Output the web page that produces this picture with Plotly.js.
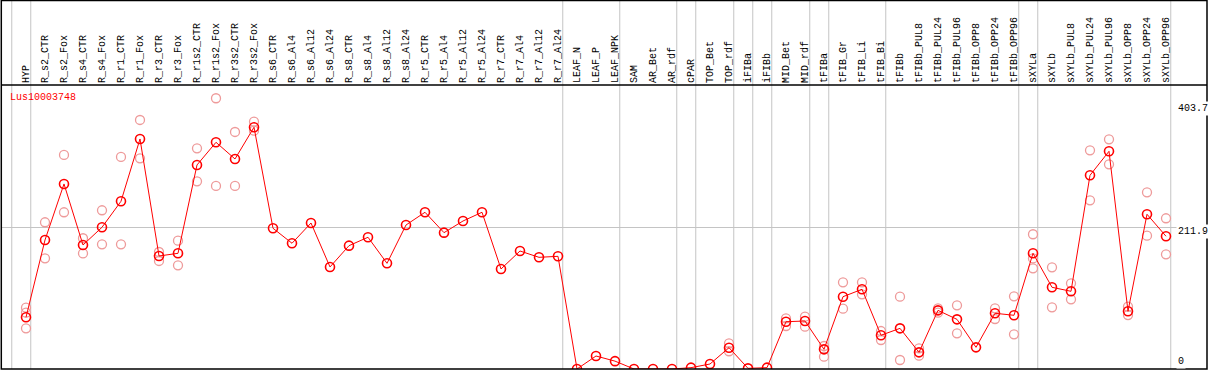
<!DOCTYPE html>
<html>
<head>
<meta charset="utf-8">
<script src="https://cdn.plot.ly/plotly-3.0.1.min.js"></script>
<style>
  html, body { margin: 0; padding: 0; background: #ffffff; }
  #chart { width: 1209px; height: 370px; }
</style>
</head>
<body>
<div id="chart"></div>
<script>
// ---- data ----
const geneName = "Lus10003748";

const categories = [
  "HYP",
  "R_s2_CTR", "R_s2_Fox", "R_s4_CTR", "R_s4_Fox", "R_r1_CTR", "R_r1_Fox", "R_r3_CTR", "R_r3_Fox",
  "R_r1s2_CTR", "R_r1s2_Fox", "R_r3s2_CTR", "R_r3s2_Fox",
  "R_s6_CTR", "R_s6_Al4", "R_s6_Al12", "R_s6_Al24",
  "R_s8_CTR", "R_s8_Al4", "R_s8_Al12", "R_s8_Al24",
  "R_r5_CTR", "R_r5_Al4", "R_r5_Al12", "R_r5_Al24",
  "R_r7_CTR", "R_r7_Al4", "R_r7_Al12", "R_r7_Al24",
  "LEAF_N", "LEAF_P", "LEAF_NPK",
  "SAM", "AR_Bet", "AR_rdf",
  "cPAR",
  "TOP_Bet", "TOP_rdf",
  "iFIBa",
  "iFIBb",
  "MID_Bet", "MID_rdf",
  "tFIBa",
  "tFIB_Gr", "tFIB_Li", "tFIB_Bi",
  "tFIBb", "tFIBb_PUL8", "tFIBb_PUL24", "tFIBb_PUL96", "tFIBb_OPP8", "tFIBb_OPP24", "tFIBb_OPP96",
  "sXYLa",
  "sXYLb", "sXYLb_PUL8", "sXYLb_PUL24", "sXYLb_PUL96", "sXYLb_OPP8", "sXYLb_OPP24", "sXYLb_OPP96"
];

const meanValues = [
  77.6,
  193.6, 277.7, 186.1, 212.7, 251.7, 345.2, 169.6, 173.6,
  306.2, 340.2, 315.2, 362.8,
  211.2, 188.7, 219.1, 153.1,
  185.1, 197.7, 158.6, 216.1,
  235.2, 204.6, 222.1, 235.2,
  150.1, 177.1, 167.6, 169.1,
  0, 19.5, 11.8,
  0, 0, 0,
  2,
  7.5, 32,
  1,
  2,
  71, 72,
  29.5,
  108.5, 119.6, 50.6,
  61, 25, 88, 74.5, 32.5, 83.6, 80.6,
  173.6,
  122.6, 116.6, 290.7, 326.7, 86.6, 232.2, 199.2
];

const rep1 = [
  92.0,
  220.2, 321.2, 196.2, 238.2, 318.2, 373.7, 175.6, 192.6,
  331.2, 406.3, 355.7, 371.2,
  null, null, null, null,
  null, null, null, null,
  null, null, null, null,
  null, null, null, null,
  null, null, null,
  null, null, null,
  null,
  null, 38.6,
  null,
  null,
  76, 78.5,
  34.5,
  130, 130, 57,
  108.5, 31, 91, 95.6, null, 91, 109,
  202.2,
  152.6, 128.6, 328.2, 344.7, 93.5, 265.2, 226.2
];

const rep2 = [
  61.1,
  166.1, 235.2, 173.6, 187.1, 187.1, 316.2, 162.1, 155.6,
  281.7, 274.7, 274.7, 357.6,
  null, null, null, null,
  null, null, null, null,
  null, null, null, null,
  null, null, null, null,
  null, null, null,
  null, null, null,
  null,
  null, 26.6,
  null,
  null,
  64.5, 63.5,
  18.5,
  90.5, 112, 43.5,
  13.5, 20, 84.5, 53.5, null, 75, 52,
  151.1,
  92.6, 104.6, 253.2, 307.2, 81, 200.1, 172.1
];

const rep3 = [
  84.5,
  null, null, null, null, null, null, null, null,
  null, null, null, null,
  null, null, null, null,
  null, null, null, null,
  null, null, null, null,
  null, null, null, null,
  null, null, null,
  null, null, null,
  null,
  null, null,
  null,
  null,
  null, null,
  null,
  null, null, null,
  null, null, null, null, null, null, null,
  166,
  null, null, null, null, null, null, null
];

// index of the last category of each group (a separator follows it)
const groupEnds = [-1, 0, 28, 31, 34, 35, 37, 38, 39, 41, 42, 45, 52, 53, 60];

const yTickLabels = [403.7, 211.9, 0];

// ---- layout helpers ----
const W = 1209, H = 370;
const plotL = 1, plotR = 1207, plotT = 85, plotB = 369;
const xRange = [-25 / 19, 1181 / 19];
const yRange = [0, 426.2];
const idx = categories.map((_, i) => i);
const xToPaper = v => (v - xRange[0]) / (xRange[1] - xRange[0]);
const pyToPaper = py => (plotB - py) / (plotB - plotT);
const pxToPaper = px => (px - plotL) / (plotR - plotL);

const repColor = "#ee9a9a";
const repMarker = { symbol: "circle-open", size: 9, color: repColor, line: { width: 1.3, color: repColor } };

const traces = [rep1, rep2, rep3].map(r => ({
  type: "scatter", mode: "markers", x: idx, y: r,
  marker: repMarker, hoverinfo: "skip", showlegend: false, cliponaxis: true
}));
traces.push({
  type: "scatter", mode: "lines+markers", x: idx, y: meanValues,
  line: { color: "#ff0000", width: 1 },
  marker: { symbol: "circle-open", size: 9, color: "#ff0000", line: { width: 1.6, color: "#ee0000" } },
  showlegend: false, cliponaxis: true
});

const shapes = [];
groupEnds.forEach(e => {
  const xp = xToPaper(e + 0.25);
  shapes.push({ type: "line", xref: "paper", yref: "paper", x0: xp, x1: xp,
    y0: 0, y1: pyToPaper(0), layer: "below", line: { color: "#c4c4c4", width: 1 } });
});
// outer frame and header separator
shapes.push({ type: "rect", xref: "paper", yref: "paper", x0: pxToPaper(1.3), x1: 1, y0: 0, y1: pyToPaper(0.6),
  line: { color: "#000000", width: 1.5 }, layer: "above" });
shapes.push({ type: "line", xref: "paper", yref: "paper", x0: 0, x1: 1, y0: 1, y1: 1,
  line: { color: "#000000", width: 1.5 }, layer: "above" });

const monoFont = { family: "Liberation Mono, DejaVu Sans Mono, monospace", size: 10, color: "#000000" };

// category labels above the plot, rotated
const annotations = categories.map((c, i) => ({
  xref: "x", yref: "paper", x: i, y: 1, xanchor: "center", yanchor: "bottom",
  yshift: 1, textangle: -90, text: c, showarrow: false, font: monoFont, borderpad: 0
}));

const labelShift = { "403.7": -8.5, "211.9": -4, "0": 7.5 };
yTickLabels.forEach(v => annotations.push({
  xref: "paper", yref: "y", x: pxToPaper(1176), y: v, xanchor: "left", yanchor: "middle",
  yshift: labelShift[String(v)], text: String(v), showarrow: false, font: monoFont,
  bgcolor: "#ffffff", borderpad: 1
}));
annotations.push({
  xref: "paper", yref: "paper", x: pxToPaper(8), y: pyToPaper(97), xanchor: "left", yanchor: "middle",
  text: geneName, showarrow: false, font: { family: "Liberation Mono, DejaVu Sans Mono, monospace", size: 10, color: "#ff0000" }
});

const layout = {
  width: W, height: H,
  margin: { l: plotL, r: W - plotR, t: plotT, b: H - plotB, pad: 0 },
  paper_bgcolor: "#ffffff", plot_bgcolor: "rgba(0,0,0,0)",
  showlegend: false,
  xaxis: {
    range: xRange, showticklabels: false, ticks: "", showgrid: false, zeroline: false,
    showline: false, fixedrange: true
  },
  yaxis: {
    range: yRange, tickmode: "array", tickvals: [211.9], showticklabels: false, ticks: "",
    showgrid: true, gridcolor: "#c4c4c4", gridwidth: 1, zeroline: false, showline: false, fixedrange: true
  },
  shapes: shapes,
  annotations: annotations
};

Plotly.newPlot("chart", traces, layout, { displayModeBar: false, staticPlot: true });
</script>
</body>
</html>
